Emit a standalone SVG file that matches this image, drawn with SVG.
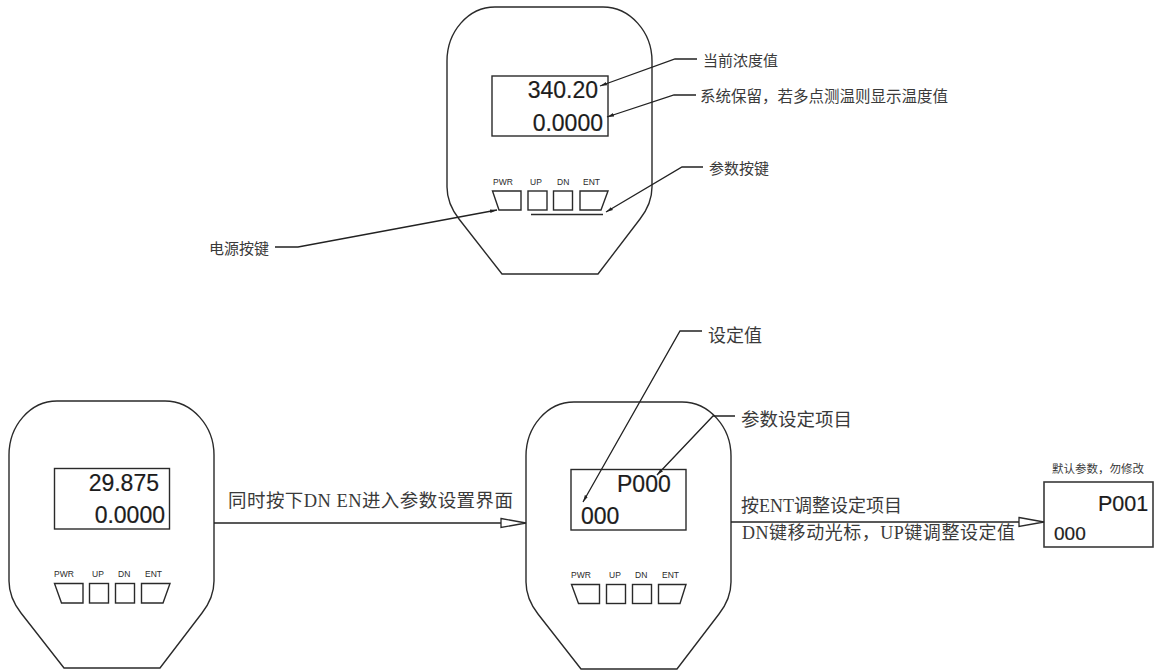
<svg xmlns="http://www.w3.org/2000/svg" width="1160" height="671" viewBox="0 0 1160 671">
<style>
.s{fill:none;stroke:#2a2a2a;stroke-width:1.4}
.c{fill:none;stroke:#222;stroke-width:1.3}
.d{font-family:"Liberation Sans",Arial,sans-serif;fill:#1c1c1c;stroke:#1c1c1c;stroke-width:.2}
.b{font-family:"Liberation Sans",Arial,sans-serif;font-size:8.5px;fill:#2a2a2a}
.l{font-family:"Liberation Serif","Noto Sans CJK SC",serif;fill:#3a3a3a}
.z{font-family:"Noto Sans CJK SC",sans-serif;fill:#3a3a3a}
</style>
<defs>
<path id="shell" d="M48,0H156C183,0 205,25 205,54V180C205,193 200,203 193,212L151,267H55L12,212C5,203 0,193 0,180V54C0,25 21,0 48,0Z"/>
<marker id="tip" markerUnits="userSpaceOnUse" markerWidth="8" markerHeight="6" refX="7" refY="3" orient="auto"><path d="M0,1.2L7,3L0,4.8Z" fill="#222"/></marker>
<marker id="open" markerUnits="userSpaceOnUse" markerWidth="28" markerHeight="12" refX="26" refY="6" orient="auto"><path d="M1,1.5L26,6L1,10.5Z" fill="#fff" stroke="#2a2a2a" stroke-width="1.3"/></marker>
</defs>

<g id="device-top">
<use href="#shell" x="447" y="7" class="s"/>
<rect x="492" y="76" width="116" height="60" class="s"/>
<text x="598" y="98" text-anchor="end" class="d" font-size="23">340.20</text>
<text x="603" y="131" text-anchor="end" class="d" font-size="23">0.0000</text>
<text x="493" y="185" class="b">PWR</text><text x="530" y="185" class="b">UP</text><text x="557" y="185" class="b">DN</text><text x="583" y="185" class="b">ENT</text>
<path d="M492.500,191H521V210H499Z" class="s"/>
<rect x="528" y="191" width="19" height="19" class="s"/>
<rect x="553.500" y="191" width="19" height="19" class="s"/>
<path d="M580,191H608L601,210H580Z" class="s"/>
<path d="M531,214.500H603" class="s"/>
</g>

<g id="device-left">
<use href="#shell" x="9" y="401" class="s"/>
<rect x="54.500" y="468.500" width="115" height="60.500" class="s"/>
<text x="159" y="491" text-anchor="end" class="d" font-size="23">29.875</text>
<text x="165" y="523" text-anchor="end" class="d" font-size="23">0.0000</text>
<text x="54" y="577" class="b">PWR</text><text x="92" y="577" class="b">UP</text><text x="118" y="577" class="b">DN</text><text x="145" y="577" class="b">ENT</text>
<path d="M54.500,583.500H83V603H61.500Z" class="s"/>
<rect x="89.500" y="583.500" width="19" height="19.500" class="s"/>
<rect x="115.500" y="583.500" width="19" height="19.500" class="s"/>
<path d="M141.500,583.500H170L163,603H141.500Z" class="s"/>
</g>

<g id="device-mid">
<use href="#shell" x="526" y="402" class="s"/>
<rect x="571" y="469.500" width="115" height="60.500" class="s"/>
<text x="617" y="492" class="d" font-size="23">P000</text>
<text x="581" y="524" class="d" font-size="23">000</text>
<text x="571" y="578" class="b">PWR</text><text x="609" y="578" class="b">UP</text><text x="635" y="578" class="b">DN</text><text x="662" y="578" class="b">ENT</text>
<path d="M571.500,584.500H599.500V603.500H578.500Z" class="s"/>
<rect x="606.500" y="584.500" width="19" height="19" class="s"/>
<rect x="632.500" y="584.500" width="19" height="19" class="s"/>
<path d="M658.500,584.500H686L680,603.500H658.500Z" class="s"/>
</g>

<g id="box-p001">
<rect x="1044" y="482" width="109" height="65" fill="#fff" stroke="#3a3a3a" stroke-width="1.600"/>
<text x="1098" y="511" class="d" font-size="21.500">P001</text>
<text x="1054" y="540" class="d" font-size="19">000</text>
<text x="1052" y="473" class="z" font-size="11.500">默认参数，勿修改</text>
</g>

<g id="connectors">
<path d="M697,59H675L600,86" class="c" marker-end="url(#tip)"/>
<path d="M696,95H674L607,117" class="c" marker-end="url(#tip)"/>
<path d="M703,167H682L606,212" class="c" marker-end="url(#tip)"/>
<path d="M275,247H298L497,210" class="c" marker-end="url(#tip)"/>
<path d="M702,331H680L583,502" class="c" marker-end="url(#tip)"/>
<path d="M735,416H713L657,475" class="c" marker-end="url(#tip)"/>
<path d="M214,523H526" class="c" marker-end="url(#open)"/>
<path d="M731,522H1044" class="c" marker-end="url(#open)"/>
</g>

<g id="labels">
<text x="703" y="66" class="z" font-size="15">当前浓度值</text>
<text x="700" y="102" class="z" font-size="15.500">系统保留，若多点测温则显示温度值</text>
<text x="709" y="174" class="z" font-size="15">参数按键</text>
<text x="209" y="254" class="z" font-size="15">电源按键</text>
<text x="708" y="342" class="z" font-size="18">设定值</text>
<text x="741" y="426" class="z" font-size="18.500">参数设定项目</text>
<text x="228" y="507" class="l" font-size="18.500" textLength="285">同时按下DN EN进入参数设置界面</text>
<text x="741" y="512" class="l" font-size="18" textLength="161">按ENT调整设定项目</text>
<text x="742" y="539" class="l" font-size="18" textLength="273">DN键移动光标，UP键调整设定值</text>
</g>
</svg>
